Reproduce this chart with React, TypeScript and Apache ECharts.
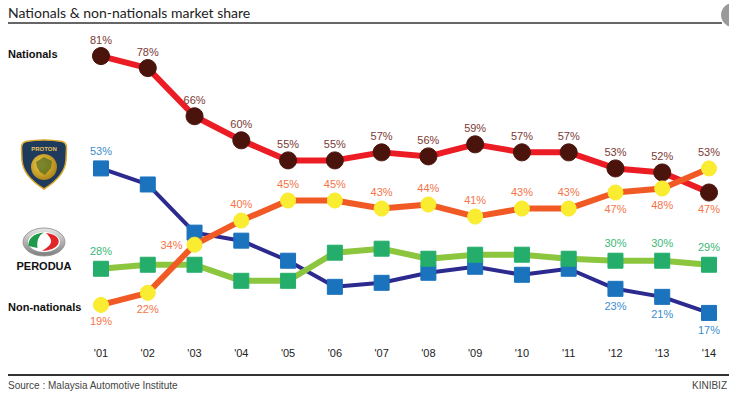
import React, { useEffect, useRef } from "react";
import * as echarts from "echarts";

const years = ["'01", "'02", "'03", "'04", "'05", "'06", "'07", "'08", "'09", "'10", "'11", "'12", "'13", "'14"];
const nationals = [81, 78, 66, 60, 55, 55, 57, 56, 59, 57, 57, 53, 52, 47];
const nonNationals = [19, 22, 34, 40, 45, 45, 43, 44, 41, 43, 43, 47, 48, 53];
const proton = [53, 49, 37, 35, 30, 23.5, 24.5, 27, 28.5, 26.5, 28, 23, 21, 17];
const perodua = [28, 29, 29, 25, 25, 32, 33, 30.5, 31.5, 31.5, 30.5, 30, 30, 29];

// label placement per point
const nonNatPos = ["bottom", "bottom", "left", "top", "top", "top", "top", "top", "top", "top", "top", "bottom", "bottom", "top"];
const protonLabeled = [0, 11, 12, 13];
const peroduaLabeled = [0, 11, 12, 13];

const BROWN = "#7b3a35";
const ORANGE = "#f47448";
const BLUE_T = "#3a8ccc";
const GREEN_T = "#3bb877";

let registered = false;
function registerShapes() {
  if (registered) return;
  registered = true;
  echarts.graphic.registerShape(
    "protonShield",
    echarts.graphic.extendPath(
      "M26 141.5 Q44 138.5 62 141.5 Q66.5 142.5 66.5 148 L66 160 Q65 176 44 189 Q23 176 22 160 L21.5 148 Q21.5 142.5 26 141.5 Z",
      {}
    )
  );
  echarts.graphic.registerShape(
    "peroGreen",
    echarts.graphic.extendPath(
      "M28.5 246 C28 238 34 233.5 44 232.5 C39 235 36.5 240 37.5 248 Z",
      {}
    )
  );
  echarts.graphic.registerShape(
    "peroRed",
    echarts.graphic.extendPath(
      "M46 233 C55 234 60 238 58.5 243 C57 248 50 250.5 42 251 C47 247.5 52 244.5 51 240 C50 237 48 235 46 233 Z",
      {}
    )
  );
}

export default function App() {
  const ref = useRef<HTMLDivElement>(null);
  useEffect(() => {
    if (!ref.current) return;
    registerShapes();
    const chart = echarts.init(ref.current, null, { renderer: "svg" });
    const lblFont = { fontFamily: "'Liberation Sans', Arial, sans-serif", fontSize: 11 };

    const natData = nationals.map((v, i) => {
      if (i === nationals.length - 1) {
        return { value: v, label: { show: true, position: "bottom", color: ORANGE, distance: 2 } };
      }
      return { value: v };
    });
    const nonNatData = nonNationals.map((v, i) => {
      const o: any = { value: v, label: { show: true, position: nonNatPos[i], distance: nonNatPos[i] === "left" ? 4 : 3 } };
      if (i === nonNationals.length - 1) o.label.color = BROWN;
      return o;
    });
    const protonData = proton.map((v, i) =>
      protonLabeled.includes(i)
        ? { value: v, label: { show: true, position: i === 0 ? "top" : "bottom", distance: 4 } }
        : { value: v }
    );
    const peroduaData = perodua.map((v, i) =>
      peroduaLabeled.includes(i) ? { value: v, label: { show: true, position: "top", distance: 4 } } : { value: v }
    );

    chart.setOption({
      animation: false,
      grid: { left: 101, right: 20, top: 40, bottom: 56, containLabel: false },
      xAxis: {
        type: "category",
        data: years,
        boundaryGap: false,
        axisLine: { show: false },
        axisTick: { show: false },
        axisLabel: { color: "#222", fontSize: 11, margin: 6, fontFamily: "'Liberation Sans', Arial, sans-serif" },
        splitLine: { show: false },
      },
      yAxis: {
        type: "value",
        min: 10,
        max: 85,
        show: false,
        splitLine: { show: false },
      },
      series: [
        {
          name: "Proton",
          type: "line",
          data: protonData,
          symbol: "rect",
          symbolSize: 15,
          lineStyle: { color: "#2c2a8e", width: 4 },
          itemStyle: { color: "#1b72bd", borderColor: "#1b72bd" },
          label: { show: false, color: BLUE_T, formatter: "{c}%", ...lblFont },
          z: 2,
        },
        {
          name: "Perodua",
          type: "line",
          data: peroduaData,
          symbol: "rect",
          symbolSize: 15,
          lineStyle: { color: "#8cc63f", width: 6 },
          itemStyle: { color: "#25ae6b", borderColor: "#25ae6b" },
          label: { show: false, color: GREEN_T, formatter: "{c}%", ...lblFont },
          z: 3,
        },
        {
          name: "Nationals",
          type: "line",
          data: natData,
          symbol: "circle",
          symbolSize: 17,
          lineStyle: { color: "#ec1c24", width: 6 },
          itemStyle: { color: "#4a140d", borderColor: "#4a140d" },
          label: { show: true, position: "top", distance: 2, color: BROWN, formatter: "{c}%", ...lblFont },
          z: 4,
        },
        {
          name: "Non-nationals",
          type: "line",
          data: nonNatData,
          symbol: "circle",
          symbolSize: 15,
          lineStyle: { color: "#f15a24", width: 6 },
          itemStyle: { color: "#f9ec31", borderColor: "#f9ec31" },
          label: { show: true, color: ORANGE, formatter: "{c}%", ...lblFont },
          z: 5,
        },
      ],
      graphic: [
        {
          type: "text",
          left: 8,
          top: 5,
          style: { text: "Nationals & non-nationals market share", fill: "#222", font: "14px Lato, 'Liberation Sans', sans-serif" },
        },
        { type: "line", shape: { x1: 8, y1: 23, x2: 722, y2: 23 }, style: { stroke: "#333", lineWidth: 1.5 } },
        { type: "circle", shape: { cx: 733, cy: 15, r: 12 }, style: { fill: "#9a9a9a" } },
        { type: "line", shape: { x1: 8, y1: 375, x2: 729, y2: 375 }, style: { stroke: "#333", lineWidth: 2 } },
        {
          type: "text",
          left: 8,
          top: 380,
          style: { text: "Source : Malaysia Automotive Institute", fill: "#444", font: "10px 'Liberation Sans', Arial, sans-serif" },
        },
        {
          type: "text",
          right: 2,
          top: 380,
          style: { text: "KINIBIZ", fill: "#444", font: "10px 'Liberation Sans', Arial, sans-serif" },
        },
        {
          type: "text",
          left: 8,
          top: 48,
          style: { text: "Nationals", fill: "#111", font: "bold 11px 'Liberation Sans', Arial, sans-serif" },
        },
        {
          type: "text",
          left: 8,
          top: 301,
          style: { text: "Non-nationals", fill: "#111", font: "bold 11px 'Liberation Sans', Arial, sans-serif" },
        },
        // Proton logo
        {
          type: "protonShield",
          x: 0,
          y: 0,
          style: { fill: "#1e3a5c", stroke: "#d9a52a", lineWidth: 1.5 },
        },
        {
          type: "circle",
          shape: { cx: 44, cy: 167, r: 13 },
          style: {
            fill: new echarts.graphic.RadialGradient(0.4, 0.4, 0.7, [
              { offset: 0, color: "#f3cf4a" },
              { offset: 1, color: "#a67c12" },
            ]),
          },
        },
        {
          type: "polygon",
          shape: { points: [[36, 162], [44, 157], [52, 161], [51, 168], [45, 175], [40, 172], [37, 167]] },
          style: { fill: "#4d6a1f", opacity: 0.7 },
        },
        {
          type: "text",
          x: 44,
          y: 149,
          style: { text: "PROTON", fill: "#e8c25a", font: "bold 6px 'Liberation Sans', Arial, sans-serif", align: "center", verticalAlign: "middle" },
        },
        // Perodua logo
        {
          type: "ellipse",
          shape: { cx: 44, cy: 242, rx: 21, ry: 14 },
          style: {
            fill: new echarts.graphic.LinearGradient(0, 0, 0, 1, [
              { offset: 0, color: "#e8e8e8" },
              { offset: 1, color: "#7d7d7d" },
            ]),
            stroke: "#8a8a8a",
            lineWidth: 0.8,
          },
        },
        { type: "ellipse", shape: { cx: 44, cy: 242, rx: 16, ry: 10 }, style: { fill: "#ffffff" } },
        { type: "peroGreen", x: 0, y: 0, style: { fill: "#1e9a4a" } },
        { type: "peroRed", x: 0, y: 0, style: { fill: "#e0262b" } },
        {
          type: "text",
          x: 44,
          y: 266,
          style: { text: "PERODUA", fill: "#111", font: "bold 11px 'Liberation Sans', Arial, sans-serif", align: "center", verticalAlign: "middle" },
        },
      ],
    });
    return () => chart.dispose();
  }, []);
  return <div ref={ref} style={{ position: "absolute", left: 0, top: 0, width: 729, height: 397, background: "#fff" }} />;
}
